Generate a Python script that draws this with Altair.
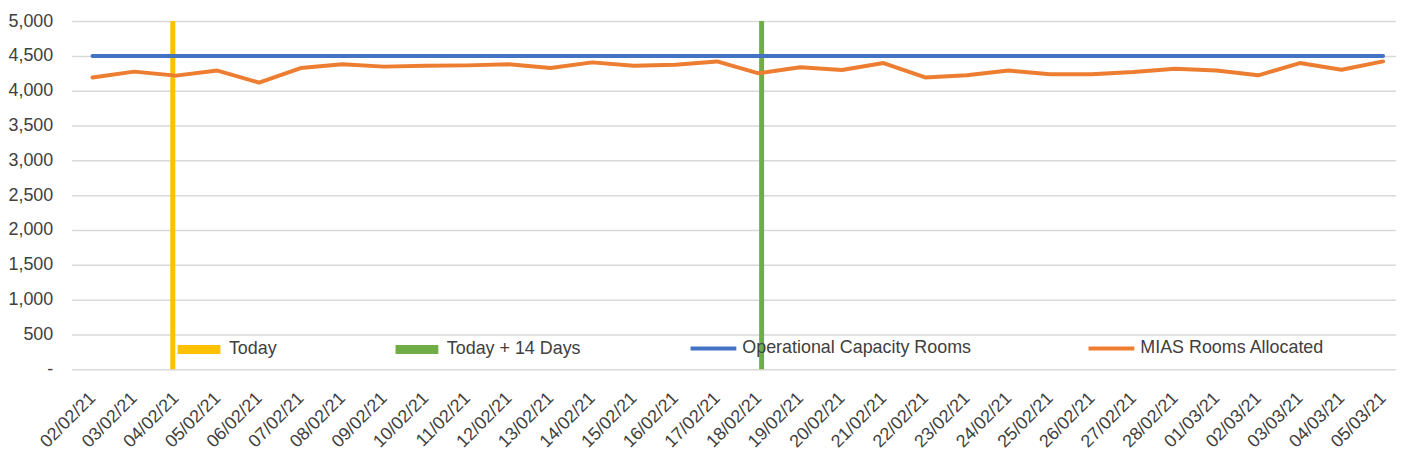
import altair as alt
import pandas as pd

dates = ["02/02/21", "03/02/21", "04/02/21", "05/02/21", "06/02/21", "07/02/21", "08/02/21",
         "09/02/21", "10/02/21", "11/02/21", "12/02/21", "13/02/21", "14/02/21", "15/02/21",
         "16/02/21", "17/02/21", "18/02/21", "19/02/21", "20/02/21", "21/02/21", "22/02/21",
         "23/02/21", "24/02/21", "25/02/21", "26/02/21", "27/02/21", "28/02/21", "01/03/21",
         "02/03/21", "03/03/21", "04/03/21", "05/03/21"]

mias_rooms = [4189, 4274, 4217, 4289, 4117, 4326, 4379, 4346, 4360, 4364, 4379, 4326, 4407,
              4360, 4374, 4421, 4250, 4336, 4297, 4397, 4190, 4221, 4289, 4236, 4236, 4269,
              4317, 4289, 4221, 4397, 4302, 4421]

capacity_rooms = [4500, 4500, 4500, 4500, 4500, 4500, 4500, 4500, 4500, 4500, 4500, 4500, 4500,
                  4500, 4500, 4500, 4500, 4500, 4500, 4500, 4500, 4500, 4500, 4500, 4500, 4500,
                  4500, 4500, 4500, 4500, 4500, 4500]

marker_names = ["Today", "Today + 14 Days"]
marker_dates = ["04/02/21", "18/02/21"]
marker_values = [5000, 5000]

series_names = ["Operational Capacity Rooms", "MIAS Rooms Allocated"]
y_ticks = [0, 500, 1000, 1500, 2000, 2500, 3000, 3500, 4000, 4500, 5000]

FONT = "Liberation Sans"
TXT = "#404040"
FS = 18

lines_df = pd.DataFrame({
    "date": dates + dates,
    "series": [series_names[0]] * len(dates) + [series_names[1]] * len(dates),
    "value": capacity_rooms + mias_rooms,
})
markers_df = pd.DataFrame({"date": marker_dates, "name": marker_names, "value": marker_values})

x_enc = alt.X(
    "date:N", sort=dates,
    scale=alt.Scale(type="point", domain=dates, padding=0.405, align=0.618),
    axis=alt.Axis(title=None, labelAngle=-45, labelAlign="right", labelBaseline="middle",
                  labelPadding=26, ticks=False, domain=False, grid=False, labelOverlap=False,
                  labelFont=FONT, labelFontSize=FS, labelColor=TXT),
)
y_enc = alt.Y(
    "value:Q",
    scale=alt.Scale(domain=[0, 5000], nice=False),
    axis=alt.Axis(title=None, values=y_ticks,
                  labelExpr="datum.value == 0 ? '-' : format(datum.value, ',')",
                  ticks=False, domain=False, grid=True, gridColor="#d9d9d9", gridWidth=1.5,
                  labelPadding=19, labelFont=FONT, labelFontSize=FS, labelColor=TXT),
)

marker_legend = alt.Legend(
    title=None, orient="none", legendX=102, legendY=304, direction="horizontal",
    symbolType="stroke", symbolStrokeWidth=9, symbolSize=1849, labelOffset=4,
    columnPadding=100, padding=0, labelLimit=0, labelFont=FONT, labelFontSize=FS, labelColor=TXT,
)
color_enc = alt.Color("name:N", scale=alt.Scale(domain=marker_names, range=["#FFC000", "#70AD47"]),
                      legend=marker_legend)

line_legend = alt.Legend(
    title=None, orient="none", legendX=620, legendY=304, direction="horizontal",
    symbolType="stroke", symbolStrokeWidth=4, symbolSize=2116, labelOffset=4,
    columnPadding=109, padding=0, labelLimit=0, labelFont=FONT, labelFontSize=FS, labelColor=TXT,
)
stroke_enc = alt.Stroke("series:N", scale=alt.Scale(domain=series_names, range=["#4472C4", "#ED7D31"]),
                        legend=line_legend)

base_m = alt.Chart(markers_df)
today_rule = base_m.transform_filter(alt.FieldEqualPredicate(field="name", equal="Today")).mark_rule(
    strokeWidth=5, xOffset=-3).encode(x=x_enc, y=y_enc, y2=alt.datum(0), color=color_enc)
later_rule = base_m.transform_filter(alt.FieldEqualPredicate(field="name", equal="Today + 14 Days")).mark_rule(
    strokeWidth=5, xOffset=3).encode(x=x_enc, y=y_enc, y2=alt.datum(0), color=color_enc)

base_l = alt.Chart(lines_df)
cap_line = base_l.transform_filter(alt.FieldEqualPredicate(field="series", equal=series_names[0])).mark_line(
    strokeWidth=4, strokeCap="round", strokeJoin="round").encode(x=x_enc, y=y_enc, stroke=stroke_enc)
mias_line = base_l.transform_filter(alt.FieldEqualPredicate(field="series", equal=series_names[1])).mark_line(
    strokeWidth=4, strokeCap="round", strokeJoin="round").encode(x=x_enc, y=y_enc, stroke=stroke_enc)

chart = alt.layer(today_rule, later_rule, cap_line, mias_line).properties(
    width=1331, height=350,
    padding={"left": 64, "top": 12, "right": 0, "bottom": 90},
    autosize=alt.AutoSizeParams(type="none"),
    background="white",
).configure_view(stroke=None)

chart.save("out.html", embed_options={"renderer": "svg", "actions": False})
